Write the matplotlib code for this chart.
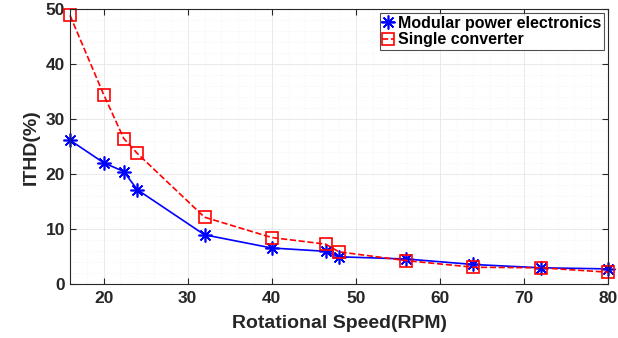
import numpy as np
import matplotlib.pyplot as plt
from matplotlib.ticker import AutoMinorLocator

plt.rcParams['font.family'] = ['Liberation Sans', 'DejaVu Sans']
plt.rcParams['font.weight'] = 'bold'

# data
speed = [16, 20, 22.4, 24, 32, 40, 46.4, 48, 56, 64, 72, 80]
modular = [26.2, 22.1, 20.5, 17.2, 9.0, 6.6, 6.0, 5.0, 4.6, 3.6, 3.0, 2.8]
single = [48.9, 34.5, 26.5, 23.8, 12.2, 8.5, 7.3, 5.9, 4.3, 3.1, 3.0, 2.2]

fig = plt.figure(figsize=(6.18, 3.38), dpi=100)
ax = fig.add_axes([0.1133, 0.1589, 0.8705, 0.8136])

ax.plot(speed, modular, '-', marker=(8, 2, 0), color='blue', lw=1.2, ms=10, mew=1.2,
        label='Modular power electronics', clip_on=False)
ax.plot(speed, single, '--s', color='red', lw=1.2, ms=8, mfc='none', mew=1.2,
        label='Single converter', clip_on=False)

ax.set_xlim(16, 80)
ax.set_ylim(0, 50)
ax.set_xticks([20, 30, 40, 50, 60, 70, 80])
ax.set_yticks([0, 10, 20, 30, 40, 50])
ax.xaxis.set_minor_locator(AutoMinorLocator(5))
ax.yaxis.set_minor_locator(AutoMinorLocator(5))
ax.grid(True, which='major', color='#e6e6e6', lw=0.6)
ax.grid(True, which='minor', color='#f0f0f0', lw=0.5, ls=':')
ax.tick_params(which='both', direction='in', top=True, right=True, colors='#262626', labelsize=12.5)
ax.tick_params(which='minor', length=0)
ax.tick_params(which='major', length=4)
ax.tick_params(axis='x', pad=5)
for s in ax.spines.values():
    s.set_color('#262626')
    s.set_linewidth(0.8)

ax.set_xlabel('Rotational Speed(RPM)', fontsize=14, fontweight='bold', color='#262626', labelpad=6)
ax.set_ylabel('ITHD(%)', fontsize=14, fontweight='bold', color='#262626', labelpad=4)

leg = ax.legend(loc='upper right', fontsize=11.5, frameon=True, fancybox=False,
                borderpad=0.15, labelspacing=0.1, handlelength=0.7, handletextpad=0.3,
                borderaxespad=0.25)
leg.get_frame().set_edgecolor('#262626')
leg.get_frame().set_linewidth(0.8)

fig.savefig('out.png', dpi=100)
